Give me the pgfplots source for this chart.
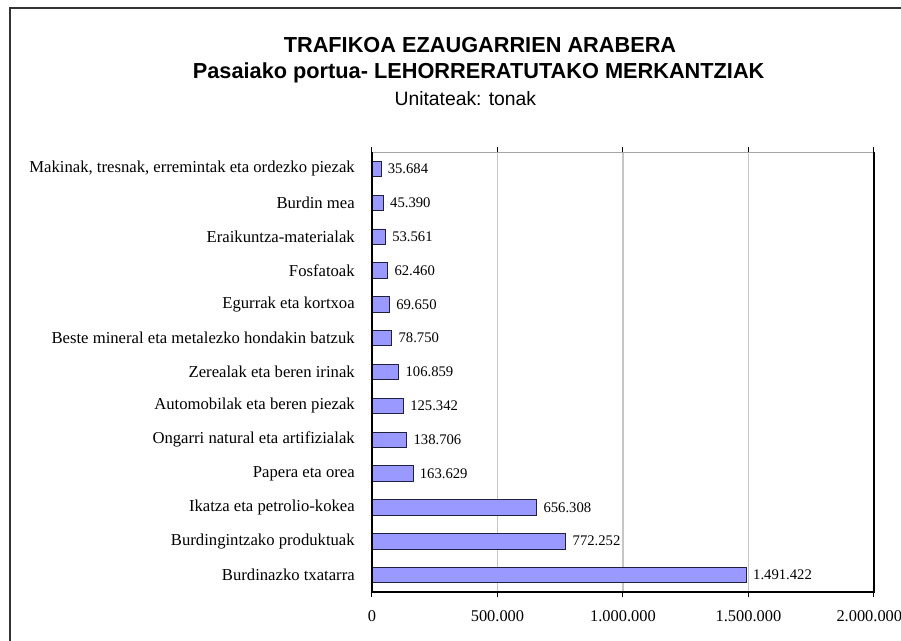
\documentclass[border=0pt]{standalone}
\usepackage{fontspec}
\setmainfont{Liberation Serif}
\newfontfamily\arial{Liberation Sans}
\usepackage{pgfplots}
\pgfplotsset{compat=1.18}
\definecolor{barfill}{HTML}{9999FF}
\definecolor{barline}{HTML}{202040}
\begin{document}
\begin{tikzpicture}
\useasboundingbox (0pt,0pt) rectangle (675.75pt,-480pt);
\draw[line width=1.1pt, black!80] (7.5pt,-482pt) -- (7.5pt,-6pt) -- (678pt,-6pt);
\node[anchor=base, font=\arial\bfseries\fontsize{16.3}{19}\selectfont] at (360pt,-39.4pt) {TRAFIKOA EZAUGARRIEN ARABERA};
\node[anchor=base, font=\arial\bfseries\fontsize{16.3}{19}\selectfont] at (359pt,-58.9pt) {Pasaiako portua- LEHORRERATUTAKO MERKANTZIAK};
\node[anchor=base, font=\arial\fontsize{14.5}{17}\selectfont] at (349pt,-79.1pt) {Unitateak: tonak};
\begin{axis}[
  at={(279pt,-444pt)}, anchor=south west,
  scale only axis, width=376.5pt, height=330pt,
  xbar, bar width=11.5pt,
  xmin=0, xmax=2000000, ymin=-0.5, ymax=12.5,
  axis line style={draw=none},
  xtick={0,500000,1000000,1500000,2000000},
  xticklabels={0,500.000,1.000.000,1.500.000,\hspace*{-7pt}2.000.000},
  scaled x ticks=false,
  xmajorgrids, major grid style={gray!45, line width=0.9pt},
  ytick={0,...,12},
  yticklabels={Burdinazko txatarra,Burdingintzako produktuak,Ikatza eta petrolio-kokea,Papera eta orea,Ongarri natural eta artifizialak,Automobilak eta beren piezak,Zerealak eta beren irinak,Beste mineral eta metalezko hondakin batzuk,Egurrak eta kortxoa,Fosfatoak,Eraikuntza-materialak,Burdin mea,{Makinak, tresnak, erremintak eta ordezko piezak}},
  minor ytick={-0.5,0.5,...,12.5},
  tick align=outside,
  xtick style={black, line width=0.75pt},
  major tick length=3.75pt,
  ytick style={draw=none},
  minor y tick style={black, line width=0.75pt},
  minor tick length=3pt,
  yticklabel style={font=\fontsize{12.5}{14}\selectfont, inner sep=0pt, xshift=-9pt},
  xticklabel style={font=\fontsize{12.3}{14}\selectfont, inner sep=0pt, yshift=-10pt},
  point meta=explicit symbolic,
  nodes near coords={\pgfplotspointmeta},
  every node near coord/.append style={font=\fontsize{11}{13}\selectfont, anchor=west, xshift=1.5pt, black},
  clip=false,
]
\addplot[fill=barfill, draw=barline, line width=0.6pt] coordinates {
  (1491422,0) [1.491.422]
  (772252,1) [772.252]
  (656308,2) [656.308]
  (163629,3) [163.629]
  (138706,4) [138.706]
  (125342,5) [125.342]
  (106859,6) [106.859]
  (78750,7) [78.750]
  (69650,8) [69.650]
  (62460,9) [62.460]
  (53561,10) [53.561]
  (45390,11) [45.390]
  (35684,12) [35.684]
};
\draw[gray!70, line width=0.75pt] (rel axis cs:0,1) -- (rel axis cs:1,1);
\draw[black, line width=0.9pt] (rel axis cs:0,1) -- (rel axis cs:0,0) -- (rel axis cs:1,0) -- (rel axis cs:1,1);
\end{axis}
\end{tikzpicture}
\end{document}
